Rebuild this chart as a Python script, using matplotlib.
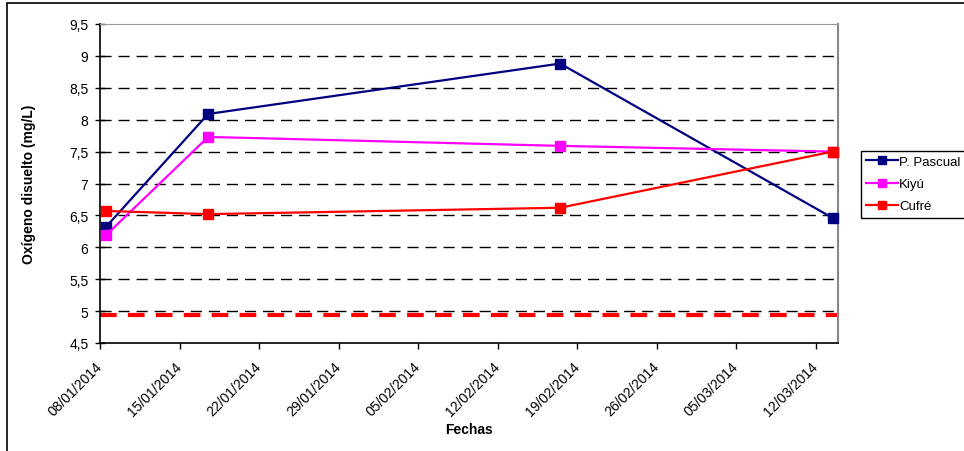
import matplotlib
matplotlib.use("Agg")
import matplotlib.pyplot as plt
import matplotlib.dates as mdates
from matplotlib.patches import Rectangle
from matplotlib.ticker import FuncFormatter, FixedLocator
import datetime as dt

plt.rcParams['font.family'] = ['Liberation Sans', 'DejaVu Sans']

# Sampling dates and dissolved oxygen readings (mg/L)
fechas = ["08/01/2014", "17/01/2014", "17/02/2014", "13/03/2014"]
p_pascual = [6.32, 8.09, 8.88, 6.46]
kiyu = [6.19, 7.73, 7.59, 7.50]
cufre = [6.57, 6.52, 6.62, 7.50]
limite = 4.94

series_names = ["P. Pascual", "Kiyú", "Cufré"]
series_colors = ["#000080", "#FF00FF", "#FF0000"]

tick_dates = ["08/01/2014", "15/01/2014", "22/01/2014", "29/01/2014", "05/02/2014",
              "12/02/2014", "19/02/2014", "26/02/2014", "05/03/2014", "12/03/2014"]
y_ticks = [4.5, 5, 5.5, 6, 6.5, 7, 7.5, 8, 8.5, 9, 9.5]

parse = lambda s: dt.datetime.strptime(s, "%d/%m/%Y")
# points sit in the middle of their day cell
x_pts = [mdates.date2num(parse(s)) + 0.5 for s in fechas]
x_ticks = [mdates.date2num(parse(s)) for s in tick_dates]
x_min = mdates.date2num(parse("08/01/2014"))
x_max = mdates.date2num(parse("14/03/2014"))

W, H = 964, 452
fig = plt.figure(figsize=(W / 100, H / 100), dpi=100)

# outer chart frame
fig.patches.append(Rectangle((7 / W, -0.1), 1.2, 1 - 4 / H + 0.1, transform=fig.transFigure,
                             fill=False, edgecolor="black", linewidth=1.2))

ax = fig.add_axes([100.3 / W, 1 - 344 / H, (838.3 - 100.3) / W, (344 - 25) / H])
ax.set_xlim(x_min, x_max)
ax.set_ylim(4.5, 9.5)

for yv in y_ticks[1:-1]:
    ax.axhline(yv, color="black", linewidth=1, linestyle=(0, (8, 5)), zorder=1)

ax.axhline(limite, color="#FF0000", linewidth=3, linestyle=(0, (4, 2.7)), zorder=2)

for vals, name, col in zip([p_pascual, kiyu, cufre], series_names, series_colors):
    ax.plot(x_pts, vals, color=col, linewidth=1.6, marker="s", markersize=7,
            markerfacecolor=col, markeredgecolor=col, label=name, zorder=3,
            clip_on=False)

ax.yaxis.set_major_locator(FixedLocator(y_ticks))
ax.yaxis.set_major_formatter(FuncFormatter(lambda v, p: ("%g" % v).replace(".", ",")))
ax.xaxis.set_major_locator(FixedLocator(x_ticks))
ax.set_xticklabels(tick_dates, rotation=45, ha="right", va="center", rotation_mode="anchor")

ax.tick_params(axis="both", labelsize=10, colors="black", width=1)
ax.tick_params(axis="x", direction="out", length=4, pad=11)
ax.tick_params(axis="y", direction="inout", length=7, pad=5)

ax.spines["left"].set_color("black")
ax.spines["bottom"].set_color("black")
ax.spines["left"].set_linewidth(1.2)
ax.spines["bottom"].set_linewidth(1.2)
ax.spines["top"].set_color("#999999")
ax.spines["right"].set_color("#888888")
ax.spines["right"].set_linewidth(1.5)

ax.set_ylabel("Oxígeno disuelto (mg/L)", fontsize=10, fontweight="bold", labelpad=24)
ax.set_xlabel("Fechas", fontsize=10, fontweight="bold", labelpad=3)

leg = fig.legend(loc="upper left", bbox_to_anchor=(861 / W, 1 - 151.5 / H), fontsize=9.5,
                 frameon=True, fancybox=False, framealpha=1, edgecolor="black",
                 borderpad=0.4, labelspacing=0.75, handlelength=2.4, handletextpad=0.1,
                 borderaxespad=0, markerscale=0.8)
leg.get_frame().set_linewidth(1)

fig.savefig("out.png", dpi=100)
